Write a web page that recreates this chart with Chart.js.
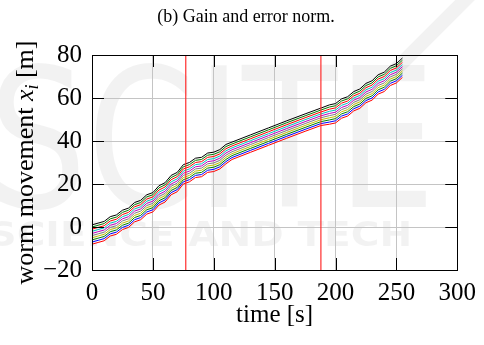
<!DOCTYPE html>
<html>
<head>
<meta charset="utf-8">
<script src="https://cdn.jsdelivr.net/npm/chart.js@4.4.1/dist/chart.umd.min.js"></script>
<style>
html,body{margin:0;padding:0;background:#fff;}
#c{display:block;}
</style>
</head>
<body>
<canvas id="c" width="484" height="345"></canvas>
<script>
// ---- data ----
const times = [0,5,10,15,20,25,30,35,40,45,50,55,60,65,70,75,80,85,90,95,100,105,110,115,130,145,160,175,188,195,200,205,210,215,220,225,230,235,240,245,250,255];
const worm1  = [1,1.8,2.6,4.8,5.6,7.8,8.8,11.4,12.4,15,16,19.2,20.6,24,25.4,29,30,32,32.4,34.4,34.8,36,38.4,39.5,42.8,46.1,49.4,52.6,55.3,56.8,57.4,59.6,60.6,63,64.2,66.8,68,70.8,72,74.8,76,78.6];
const worm2  = [0,0.8,1.6,3.8,4.6,6.8,7.8,10.4,11.4,14,15,18.2,19.6,23,24.4,28,29,31,31.4,33.4,33.8,35,37.4,38.6,41.9,45.2,48.5,51.7,54.4,55.8,56.4,58.6,59.6,62,63.2,65.8,67,69.8,71,73.8,75,77.6];
const worm3  = [-1,-0.2,0.6,2.8,3.6,5.8,6.8,9.4,10.4,13,14,17.2,18.6,22,23.4,27,28,30,30.4,32.4,32.8,34,36.4,37.7,41,44.3,47.6,50.8,53.5,54.8,55.4,57.6,58.6,61,62.2,64.8,66,68.8,70,72.8,74,76.6];
const worm4  = [-2,-1.2,-0.4,1.8,2.6,4.8,5.8,8.4,9.4,12,13,16.2,17.6,21,22.4,26,27,29,29.4,31.4,31.8,33,35.4,36.8,40.1,43.4,46.7,49.9,52.6,53.8,54.4,56.6,57.6,60,61.2,63.8,65,67.8,69,71.8,73,75.6];
const worm5  = [-3,-2.2,-1.4,0.8,1.6,3.8,4.8,7.4,8.4,11,12,15.2,16.6,20,21.4,25,26,28,28.4,30.4,30.8,32,34.4,35.9,39.2,42.5,45.8,49,51.7,52.8,53.4,55.6,56.6,59,60.2,62.8,64,66.8,68,70.8,72,74.6];
const worm6  = [-4,-3.2,-2.4,-0.2,0.6,2.8,3.8,6.4,7.4,10,11,14.2,15.6,19,20.4,24,25,27,27.4,29.4,29.8,31,33.4,35,38.3,41.6,44.9,48.1,50.8,51.8,52.4,54.6,55.6,58,59.2,61.8,63,65.8,67,69.8,71,73.6];
const worm7  = [-5,-4.2,-3.4,-1.2,-0.4,1.8,2.8,5.4,6.4,9,10,13.2,14.6,18,19.4,23,24,26,26.4,28.4,28.8,30,32.4,34.1,37.4,40.7,44,47.2,49.9,50.8,51.4,53.6,54.6,57,58.2,60.8,62,64.8,66,68.8,70,72.6];
const worm8  = [-6,-5.2,-4.4,-2.2,-1.4,0.8,1.8,4.4,5.4,8,9,12.2,13.6,17,18.4,22,23,25,25.4,27.4,27.8,29,31.4,33.2,36.5,39.8,43.1,46.3,49,49.8,50.4,52.6,53.6,56,57.2,59.8,61,63.8,65,67.8,69,71.6];
const worm9  = [-7,-6.2,-5.4,-3.2,-2.4,-0.2,0.8,3.4,4.4,7,8,11.2,12.6,16,17.4,21,22,24,24.4,26.4,26.8,28,30.4,32.3,35.6,38.9,42.2,45.4,48.1,48.8,49.4,51.6,52.6,55,56.2,58.8,60,62.8,64,66.8,68,70.6];
const worm10 = [-8,-7.2,-6.4,-4.2,-3.4,-1.2,-0.2,2.4,3.4,6,7,10.2,11.6,15,16.4,20,21,23,23.4,25.4,25.8,27,29.4,31.4,34.7,38,41.3,44.5,47.2,47.8,48.4,50.6,51.6,54,55.2,57.8,59,61.8,63,65.8,67,69.6];
const markerTimes = [77, 188];
const xTicks = [0,50,100,150,200,250,300];
const yTicks = [-20,0,20,40,60,80];
const wormColors = ['#000000','#007a00','#ff0000','#00bfbf','#bf00bf','#7f7f7f','#bfbf00','#008000','#0000ff','#ff0000'];

const worms = [worm1,worm2,worm3,worm4,worm5,worm6,worm7,worm8,worm9,worm10];
const serif = '"Liberation Serif","Times New Roman",serif';

const datasets = [];
markerTimes.forEach(t => {
  datasets.push({data:[{x:t,y:yTicks[0]},{x:t,y:yTicks[yTicks.length-1]}], borderColor:'rgba(255,40,40,0.9)', borderWidth:1.3, pointRadius:0, showLine:true});
});
worms.forEach((w,i) => {
  datasets.push({data: times.map((t,j)=>({x:t,y:w[j]})), borderColor: wormColors[i], borderWidth:1, pointRadius:0, showLine:true, tension:0});
});

const decor = {
  id:'decor',
  beforeDraw(chart){
    const ctx = chart.ctx;
    ctx.save();
    ctx.fillStyle = '#fff';
    ctx.fillRect(0,0,chart.width,chart.height);
    // faint watermark
    ctx.fillStyle = 'rgba(0,0,0,0.05)';
    ctx.font = '195px "DejaVu Sans"';
    ctx.textBaseline = 'alphabetic';
    ctx.save();
    ctx.scale(0.8,1);
    ctx.fillText('SCITE', -15, 207);
    ctx.restore();
    ctx.font = 'bold 34px "DejaVu Sans"';
    ctx.save();
    ctx.scale(1.15,1);
    ctx.fillText('SCIENCE AND TECH', -10, 246);
    ctx.restore();
    ctx.strokeStyle = 'rgba(0,0,0,0.05)';
    ctx.lineWidth = 14;
    ctx.beginPath(); ctx.moveTo(470,-5); ctx.lineTo(395,70); ctx.stroke();
    ctx.restore();
  },
  afterDraw(chart){
    const ctx = chart.ctx;
    const a = chart.chartArea;
    const xs = chart.scales.x, ys = chart.scales.y;
    ctx.save();
    ctx.strokeStyle = '#000';
    ctx.lineWidth = 1;
    ctx.strokeRect(Math.round(a.left)+0.5, Math.round(a.top)+0.5, Math.round(a.right-a.left), Math.round(a.bottom-a.top));
    const L = 12;
    ctx.beginPath();
    xTicks.forEach(v => {
      const px = Math.round(xs.getPixelForValue(v))+0.5;
      ctx.moveTo(px, a.top); ctx.lineTo(px, a.top+L);
      ctx.moveTo(px, a.bottom); ctx.lineTo(px, a.bottom-L);
    });
    yTicks.forEach(v => {
      const py = Math.round(ys.getPixelForValue(v))+0.5;
      ctx.moveTo(a.left, py); ctx.lineTo(a.left+L, py);
      ctx.moveTo(a.right, py); ctx.lineTo(a.right-L, py);
    });
    ctx.stroke();
    // title
    ctx.fillStyle = '#000';
    ctx.font = '18px ' + serif;
    ctx.textAlign = 'center';
    ctx.textBaseline = 'alphabetic';
    ctx.fillText('(b) Gain and error norm.', 246, 22);
    // x axis title
    ctx.font = '25px ' + serif;
    ctx.fillText('time [s]', (a.left+a.right)/2, 322);
    // y axis title with italic x_i
    ctx.translate(33, (a.top+a.bottom)/2);
    ctx.rotate(-Math.PI/2);
    const fs = 26;
    const p1 = 'worm movement ', p2 = 'x', p3 = 'i', p4 = ' [m]';
    ctx.textAlign = 'left';
    ctx.font = fs+'px '+serif; const w1 = ctx.measureText(p1).width, w4 = ctx.measureText(p4).width;
    ctx.font = 'italic '+fs+'px '+serif; const w2 = ctx.measureText(p2).width;
    ctx.font = 'italic '+Math.round(fs*0.7)+'px '+serif; const w3 = ctx.measureText(p3).width;
    let x0 = -(w1+w2+w3+w4)/2;
    ctx.font = fs+'px '+serif; ctx.fillText(p1, x0, 0); x0 += w1;
    ctx.font = 'italic '+fs+'px '+serif; ctx.fillText(p2, x0, 0); x0 += w2;
    ctx.font = 'italic '+Math.round(fs*0.7)+'px '+serif; ctx.fillText(p3, x0, 5); x0 += w3;
    ctx.font = fs+'px '+serif; ctx.fillText(p4, x0, 0);
    ctx.restore();
  }
};

new Chart(document.getElementById('c'), {
  type:'scatter',
  data:{datasets},
  options:{
    responsive:false,
    animation:false,
    devicePixelRatio:1,
    layout:{padding:{left:0,right:22,top:55,bottom:0}},
    plugins:{legend:{display:false},tooltip:{enabled:false},title:{display:false}},
    scales:{
      x:{
        type:'linear', min:0, max:300,
        afterBuildTicks(s){ s.ticks = xTicks.map(v=>({value:v})); },
        afterFit(s){ s.height = 75; },
        grid:{color:'#c4c4c4', drawTicks:false, lineWidth:1},
        border:{display:false},
        ticks:{color:'#000', font:{family:serif, size:25}, padding:8, maxRotation:0, autoSkip:false}
      },
      y:{
        type:'linear', min:-20, max:80,
        afterBuildTicks(s){ s.ticks = yTicks.map(v=>({value:v})); },
        afterFit(s){ s.width = 92; },
        grid:{color:'#c4c4c4', drawTicks:false, lineWidth:1},
        border:{display:false},
        ticks:{color:'#000', font:{family:serif, size:25}, padding:10, autoSkip:false,
          callback:(v)=> v<0 ? '\u2212'+Math.abs(v) : String(v)}
      }
    }
  },
  plugins:[decor]
});
</script>
</body>
</html>
